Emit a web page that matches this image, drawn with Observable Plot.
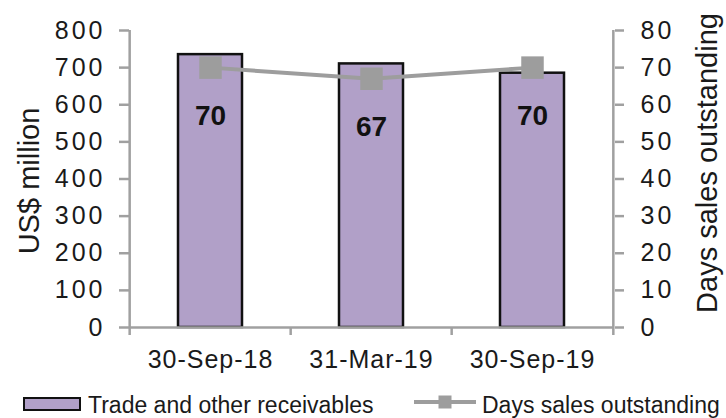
<!DOCTYPE html>
<html>
<head>
<meta charset="utf-8">
<script src="https://cdn.jsdelivr.net/npm/d3@7"></script>
<script src="https://cdn.jsdelivr.net/npm/@observablehq/plot@0.6"></script>
<style>
  body { margin: 0; background: #fff; }
  #chart { position: relative; width: 726px; height: 418px; font-family: Arial, "Liberation Sans", Helvetica, sans-serif; color: #1a1a1a; }
  #chart svg { display: block; }
  g[aria-label="y-axis tick label"] { letter-spacing: 3px; }
  g[aria-label="x-axis tick label"] { letter-spacing: 1px; }
  .legend-item { position: absolute; top: 394px; font-size: 23px; line-height: 23px; white-space: nowrap; }
  .swatch-bar { position: absolute; left: 23px; top: 397px; width: 58px; height: 14px; box-sizing: border-box; border: 2.5px solid #111; background: #b1a0c8; }
  .swatch-line { position: absolute; left: 414px; top: 394px; }
</style>
</head>
<body>
<div id="chart"></div>
<script>
// Reporting dates
const periods = ["30-Sep-18", "31-Mar-19", "30-Sep-19"];
// Trade and other receivables, US$ million (left axis)
const receivables = [735, 710, 685];
// Days sales outstanding (right axis)
const daysOutstanding = [70, 67, 70];
// Axis ticks
const leftTicks = [0, 100, 200, 300, 400, 500, 600, 700, 800];
const rightTicks = [0, 10, 20, 30, 40, 50, 60, 70, 80];

// The right axis (0–80 days) shares the left scale (0–800)
const daysToAxis = 800 / 80;

const rows = periods.map((p, i) => ({
  period: p,
  receivables: receivables[i],
  days: daysOutstanding[i]
}));

const W = 726, H = 418;
const mLeft = 129, mRight = 112, mTop = 30, mBottom = 91;
const step = (W - mLeft - mRight) / periods.length;

const barFill = "#b1a0c8";
const axisGray = "#a0a0a0";
const lineGray = "#9d9d9d";
const ink = "#1a1a1a";

const chart = Plot.plot({
  width: W,
  height: H,
  marginLeft: mLeft,
  marginRight: mRight,
  marginTop: mTop,
  marginBottom: mBottom,
  style: { fontFamily: 'Arial, "Liberation Sans", Helvetica, sans-serif', background: "#fff", color: ink },
  x: { domain: periods, paddingInner: 0.6, paddingOuter: 0.3 },
  y: { domain: [0, 800] },
  marks: [
    Plot.barY(rows, { x: "period", y: "receivables", fill: barFill, stroke: "#111", strokeWidth: 2.5 }),
    // baseline
    Plot.ruleY([0], { stroke: axisGray, strokeWidth: 2.5 }),
    // left and right axis lines, extended below the baseline as end ticks
    Plot.ruleX([periods[0]], { x: d => d, dx: -step / 2, stroke: axisGray, strokeWidth: 2.5, insetBottom: -8 }),
    Plot.ruleX([periods[periods.length - 1]], { x: d => d, dx: step / 2, stroke: axisGray, strokeWidth: 2.5, insetBottom: -8 }),
    // category separators below the baseline
    Plot.ruleX(periods.slice(1), { x: d => d, dx: -step / 2, y1: 0, y2: 0, stroke: axisGray, strokeWidth: 2.5, insetBottom: -8 }),
    Plot.axisY({ anchor: "left", ticks: leftTicks, tickSize: 10, tickPadding: 14, stroke: axisGray, strokeWidth: 2.5, fill: ink, fontSize: 25, label: null }),
    Plot.axisY({ anchor: "right", ticks: rightTicks.map(d => d * daysToAxis), tickFormat: d => d / daysToAxis, tickSize: 9, tickPadding: 17, stroke: axisGray, strokeWidth: 2.5, fill: ink, fontSize: 25, label: null }),
    Plot.axisX({ tickSize: 0, tickPadding: 23, fill: ink, fontSize: 25, label: null }),
    // axis titles
    Plot.text(["US$ million"], { text: d => d, frameAnchor: "left", textAnchor: "middle", dx: -100, dy: 2, rotate: -90, fontSize: 29, fill: ink }),
    Plot.text(["Days sales outstanding"], { text: d => d, frameAnchor: "right", textAnchor: "middle", dx: 93, dy: -16, rotate: -90, fontSize: 29, fill: ink }),
    // days sales outstanding line
    Plot.lineY(rows, { x: "period", y: d => d.days * daysToAxis, stroke: lineGray, strokeWidth: 4 }),
    Plot.dot(rows, { x: "period", y: d => d.days * daysToAxis, symbol: "square", r: 12.7, fill: lineGray, stroke: "none" }),
    Plot.text(rows, { x: "period", y: d => d.days * daysToAxis, text: d => String(d.days), dy: 48, fontSize: 28, fontWeight: "bold", fill: "#111" })
  ]
});

const root = document.getElementById("chart");
root.appendChild(chart);

// legend
const legend = document.createElement("div");
legend.innerHTML = `
  <div class="swatch-bar"></div>
  <div class="legend-item" style="left:88px">Trade and other receivables</div>
  <svg class="swatch-line" width="62" height="16">
    <line x1="0" x2="62" y1="8" y2="8" stroke="${lineGray}" stroke-width="4"></line>
    <rect x="24.5" y="1.5" width="13" height="13" fill="${lineGray}"></rect>
  </svg>
  <div class="legend-item" style="left:482px">Days sales outstanding</div>`;
root.appendChild(legend);
</script>
</body>
</html>
